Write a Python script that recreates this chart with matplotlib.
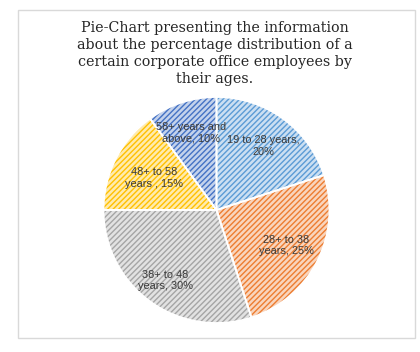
import matplotlib
matplotlib.use("Agg")
import numpy as np
import matplotlib.pyplot as plt
import matplotlib.colors as mcolors
from matplotlib.patches import Rectangle

categories = ["19 to 28 years,\n20%", "28+ to 38\nyears, 25%", "38+ to 48\nyears, 30%",
              "48+ to 58\nyears , 15%", "58+ years and\nabove, 10%"]
values = [20, 25, 30, 15, 10]
colors = ["#5B9BD5", "#ED7D31", "#A5A5A5", "#FFC000", "#4472C4"]
label_dist = [0.70, 0.69, 0.77, 0.62, 0.72]
title = ("Pie-Chart presenting the information\nabout the percentage distribution of a\n"
         "certain corporate office employees by\ntheir ages.")

plt.rcParams['hatch.linewidth'] = 1.0
W, H = 420, 352
fig = plt.figure(figsize=(W/100, H/100), dpi=100)
fig.patch.set_facecolor("white")

# border
fig.add_artist(Rectangle((18/W, 1 - 338/H), (415-18)/W, (338-10)/H, transform=fig.transFigure,
                         fill=False, edgecolor="#D9D9D9", linewidth=1))

cx, cy, r = 216.5, 210, 113
ax = fig.add_axes([(cx - r)/W, (H - cy - r)/H, 2*r/W, 2*r/H])

def tint(c, f=0.75):
    rgb = mcolors.to_rgb(c)
    return tuple(x + (1 - x) * f for x in rgb)

wedges, texts = ax.pie(values, labels=categories, startangle=90, counterclock=False,
                       labeldistance=0.7, radius=1,
                       textprops=dict(fontsize=7.9, color="#3A3A3A", family="Liberation Sans",
                                      ha="center", va="center", linespacing=1.2))
for w, c, t, d in zip(wedges, colors, texts, label_dist):
    w.set_facecolor(tint(c, 0.68))
    w.set_edgecolor(c)
    w.set_linewidth(0)
    w.set_hatch("//////")
    ang = np.deg2rad((w.theta1 + w.theta2) / 2)
    t.set_position((d * np.cos(ang), d * np.sin(ang)))
    t.set_ha("center")
    t.set_va("center")
# white slice boundaries
ax.pie(values, startangle=90, counterclock=False, radius=1,
       wedgeprops=dict(fill=False, edgecolor="white", linewidth=1.3))
ax.set_xlim(-1, 1)
ax.set_ylim(-1, 1)
ax.set_aspect("equal")
ax.axis("off")

fig.text(215/W, 1 - 21/H, title, ha="center", va="top", fontsize=10.3,
         family="DejaVu Serif", color="#262626", linespacing=1.28)

fig.savefig("out.png", dpi=100)
